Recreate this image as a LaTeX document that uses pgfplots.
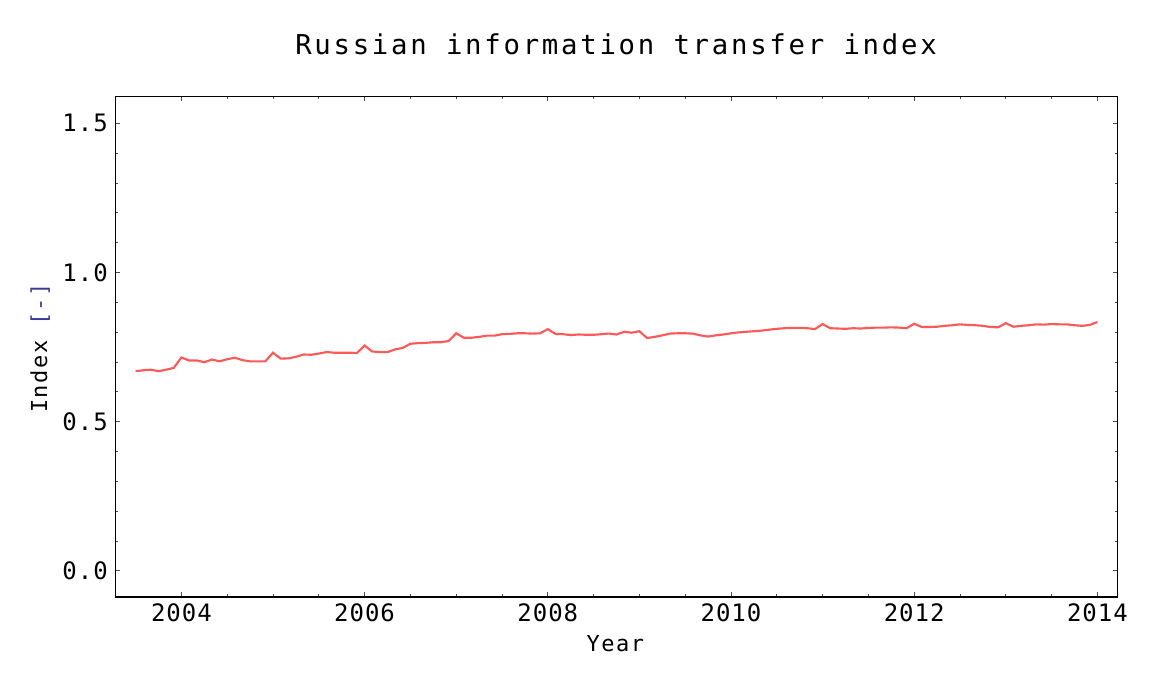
\documentclass[border=0pt]{standalone}
\usepackage{fontspec}
\setmainfont{DejaVu Sans Mono}
\newfontfamily\titlefont[LetterSpace=10]{DejaVu Sans Mono}
\newfontfamily\labfont[LetterSpace=7]{DejaVu Sans Mono}
\newfontfamily\tickfont[LetterSpace=4]{DejaVu Sans Mono}
\usepackage{pgfplots}
\usepackage{pgfplotstable}
\pgfplotsset{compat=1.18}
\definecolor{linered}{RGB}{255,88,88}
\definecolor{unitblue}{RGB}{60,60,150}

\pgfplotstableread{
year value
2003.5 0.669
2003.5833 0.672
2003.6667 0.674
2003.75 0.669
2003.8333 0.674
2003.9167 0.680
2004.0 0.715
2004.0833 0.705
2004.1667 0.705
2004.25 0.699
2004.3333 0.708
2004.4167 0.702
2004.5 0.709
2004.5833 0.714
2004.6667 0.706
2004.75 0.702
2004.8333 0.702
2004.9167 0.702
2005.0 0.731
2005.0833 0.711
2005.1667 0.712
2005.25 0.717
2005.3333 0.725
2005.4167 0.724
2005.5 0.728
2005.5833 0.733
2005.6667 0.731
2005.75 0.731
2005.8333 0.731
2005.9167 0.730
2006.0 0.755
2006.0833 0.735
2006.1667 0.733
2006.25 0.733
2006.3333 0.742
2006.4167 0.747
2006.5 0.761
2006.5833 0.763
2006.6667 0.764
2006.75 0.766
2006.8333 0.766
2006.9167 0.770
2007.0 0.796
2007.0833 0.781
2007.1667 0.781
2007.25 0.784
2007.3333 0.788
2007.4167 0.788
2007.5 0.793
2007.5833 0.794
2007.6667 0.796
2007.75 0.796
2007.8333 0.795
2007.9167 0.796
2008.0 0.810
2008.0833 0.794
2008.1667 0.793
2008.25 0.790
2008.3333 0.792
2008.4167 0.791
2008.5 0.791
2008.5833 0.793
2008.6667 0.795
2008.75 0.792
2008.8333 0.801
2008.9167 0.798
2009.0 0.803
2009.0833 0.780
2009.1667 0.784
2009.25 0.789
2009.3333 0.795
2009.4167 0.796
2009.5 0.796
2009.5833 0.795
2009.6667 0.789
2009.75 0.785
2009.8333 0.789
2009.9167 0.792
2010.0 0.796
2010.0833 0.799
2010.1667 0.801
2010.25 0.803
2010.3333 0.805
2010.4167 0.808
2010.5 0.811
2010.5833 0.813
2010.6667 0.814
2010.75 0.814
2010.8333 0.813
2010.9167 0.810
2011.0 0.827
2011.0833 0.813
2011.1667 0.812
2011.25 0.811
2011.3333 0.813
2011.4167 0.812
2011.5 0.814
2011.5833 0.815
2011.6667 0.815
2011.75 0.816
2011.8333 0.815
2011.9167 0.813
2012.0 0.828
2012.0833 0.817
2012.1667 0.817
2012.25 0.818
2012.3333 0.821
2012.4167 0.823
2012.5 0.826
2012.5833 0.824
2012.6667 0.823
2012.75 0.821
2012.8333 0.817
2012.9167 0.816
2013.0 0.830
2013.0833 0.818
2013.1667 0.821
2013.25 0.823
2013.3333 0.826
2013.4167 0.825
2013.5 0.827
2013.5833 0.826
2013.6667 0.826
2013.75 0.823
2013.8333 0.821
2013.9167 0.824
2014.0 0.834
}\datatable

\begin{document}
\begin{tikzpicture}
\useasboundingbox (-86.5pt,-66.75pt) rectangle (777.5pt,447.75pt);
\begin{axis}[
  at={(0pt,0pt)}, anchor=south west,
  scale only axis, width=751.5pt, height=375.2pt,
  xmin=2003.279, xmax=2014.218, ymin=-0.088, ymax=1.589,
  xtick={2004,2006,2008,2010,2012,2014}, minor x tick num=3,
  ytick={0,0.5,1,1.5}, minor y tick num=4,
  tick align=inside, xtick pos=both, ytick pos=both,
  xticklabel pos=lower, yticklabel pos=left,
  major tick length=3.5pt, minor tick length=2pt,
  every tick/.style={black!70, line width=0.6pt},
  axis line style={line width=0.8pt, black},
  /pgf/number format/assume math mode=true,
  ticklabel style={font=\tickfont\fontsize{18}{20}\selectfont, inner sep=0pt},
  xticklabel style={anchor=north, yshift=-4.5pt, /pgf/number format/1000 sep={}},
  yticklabel style={anchor=east, xshift=-5.5pt, /pgf/number format/fixed, /pgf/number format/fixed zerofill, /pgf/number format/precision=1},
]
\addplot[linered, line width=1.6pt, no markers] table[x=year, y=value] {\datatable};
\end{axis}
\node[anchor=base, font=\titlefont\fontsize{20.5}{24}\selectfont] at (375.5pt,406.5pt) {Russian information transfer index};
\node[anchor=base, font=\labfont\fontsize{16.5}{20}\selectfont] at (375pt,-40.5pt) {Year};
\node[anchor=base, rotate=90, font=\labfont\fontsize{16.5}{20}\selectfont] at (-51.2pt,186.75pt) {Index \textcolor{unitblue}{[-]}};
\end{tikzpicture}
\end{document}
